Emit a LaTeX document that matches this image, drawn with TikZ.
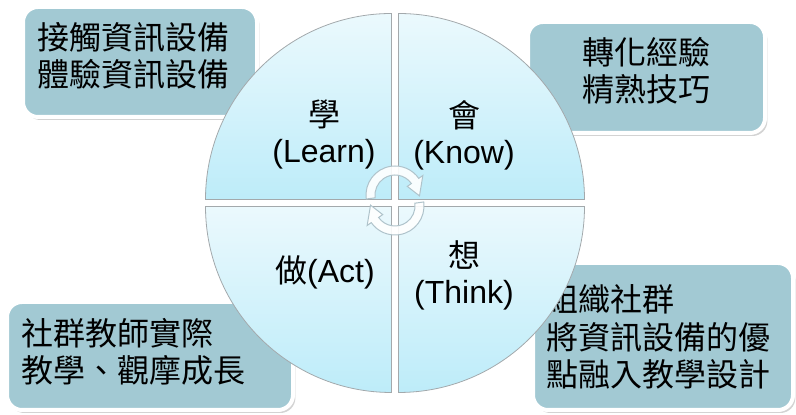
\documentclass[tikz,border=0pt]{standalone}
\usepackage{fontspec}
\setmainfont{Liberation Sans}
\newfontfamily\cjk{Noto Sans CJK TC}
\usetikzlibrary{shadows}

\definecolor{boxfill}{HTML}{A2C9D3}
\definecolor{quadtop}{HTML}{EBF9FD}
\definecolor{quadbot}{HTML}{BDECF9}
\definecolor{quadline}{HTML}{A3A9AC}
\definecolor{turnline}{HTML}{AFC3CB}

\newcommand{\zh}[1]{{\cjk #1}}

\begin{document}
\begin{tikzpicture}[x=0.5pt, y=0.5pt,
  info box/.style={draw=white, line width=2pt, fill=boxfill, rounded corners=7.5pt,
    drop shadow={shadow xshift=1.2pt, shadow yshift=-1.5pt, opacity=0.35}},
  box text/.style={font=\cjk\fontsize{16}{18.75}\selectfont, inner sep=0pt},
  quad label/.style={font=\fontsize{16}{18}\selectfont, align=center, inner sep=0pt},
  quadrant/.style={draw=quadline, line width=0.4pt, top color=quadtop, bottom color=quadbot},
  turn arrow/.style={draw=turnline, line width=0.5pt, fill=white, fill opacity=0.9}]
\useasboundingbox (0,0) rectangle (796,415);

% boxes behind the circle
\draw [info box] (23,298) rectangle (257,408);
\draw [info box] (528,282) rectangle (765,393);
\draw [info box] (7,5) rectangle (293,113);
\draw [info box] (533,5) rectangle (793,152);

\node [box text, align=center] (learn-text) at (133,359) {接觸資訊設備\\體驗資訊設備};
\node [box text, align=center] (know-text) at (646,344) {轉化經驗\\精熟技巧};
\node [box text, align=left, anchor=west] (act-text) at (21,63) {社群教師實際\\教學、觀摩成長};
\node [box text, align=left, anchor=west] (think-text) at (546,78) {組織社群\\將資訊設備的優\\點融入教學設計};

% the four quarters
\foreach \a/\dx/\dy in {0/3.5/3.5, 90/-3.5/3.5, 180/-3.5/-3.5, 270/3.5/-3.5}
  \draw [quadrant] (395+\dx,212+\dy) -- ++(\a:186)
    arc [start angle=\a, delta angle=90, radius=186] -- cycle;

\node [quad label] (learn) at (324,280) {\zh{學}\\(Learn)};
\node [quad label] (know) at (464,280) {\zh{會}\\(Know)};
\node [quad label] (act) at (325,143) {\zh{做}(Act)};
\node [quad label] (think) at (464,140) {\zh{想}\\(Think)};

% turning arrows in the middle
\foreach \cy/\r in {220/0, 209/180}
  \draw [turn arrow, shift={(395,\cy)}, rotate=\r]
    (188:29) arc [start angle=188, end angle=35, radius=29]
    -- (35:34) -- (-2:24.5) -- (35:15) -- (35:20)
    arc [start angle=35, end angle=188, radius=20] -- cycle;
\end{tikzpicture}
\end{document}
